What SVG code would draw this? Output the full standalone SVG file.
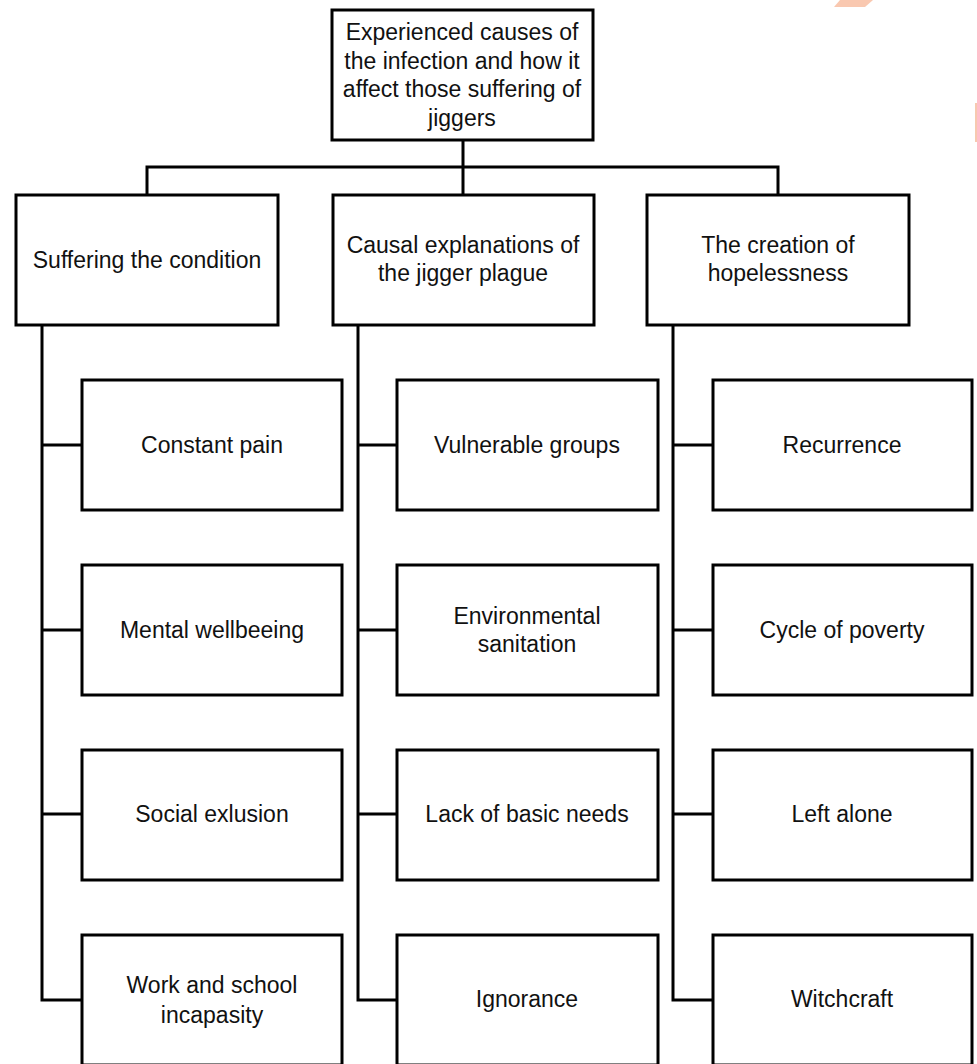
<svg xmlns="http://www.w3.org/2000/svg" width="977" height="1064" viewBox="0 0 977 1064">
<style>
.box{fill:#fff;stroke:#000;stroke-width:3}
.ln{fill:none;stroke:#000;stroke-width:3}
text{font-family:"Liberation Sans",Arial,sans-serif;font-size:23px;fill:#111;text-anchor:middle}
</style>
<rect width="977" height="1064" fill="#fff"/>
<polygon points="840,0 873,0 865,7 834,7" fill="#f9c8b0"/>
<rect x="975" y="103" width="2" height="39" fill="#f7c9b0"/>
<g id="connectors">
<path class="ln" d="M463,140 V195 M147,195 V167 H778 V195"/>
<path class="ln" d="M42,325 V1000 H82 M42,445 H82 M42,630 H82 M42,814 H82"/>
<path class="ln" d="M358,325 V1000 H397 M358,445 H397 M358,630 H397 M358,814 H397"/>
<path class="ln" d="M673,325 V1000 H713 M673,445 H713 M673,630 H713 M673,814 H713"/>
</g>
<g id="root"><rect class="box" x="332" y="10" width="261" height="130"/>
<text x="462" y="40">Experienced causes of</text><text x="462" y="69">the infection and how it</text><text x="462" y="97">affect those suffering of</text><text x="462" y="126">jiggers</text></g>
<g id="c1"><rect class="box" x="16" y="195" width="262" height="130"/><text x="147" y="268">Suffering the condition</text></g>
<g id="c2"><rect class="box" x="333" y="195" width="261" height="130"/><text x="463" y="253">Causal explanations of</text><text x="463" y="281">the jigger plague</text></g>
<g id="c3"><rect class="box" x="647" y="195" width="262" height="130"/><text x="778" y="253">The creation of</text><text x="778" y="281">hopelessness</text></g>
<g id="c1a"><rect class="box" x="82" y="380" width="260" height="130"/><text x="212" y="453">Constant pain</text></g>
<g id="c1b"><rect class="box" x="82" y="565" width="260" height="130"/><text x="212" y="638">Mental wellbeeing</text></g>
<g id="c1c"><rect class="box" x="82" y="750" width="260" height="130"/><text x="212" y="822">Social exlusion</text></g>
<g id="c1d"><rect class="box" x="82" y="935" width="260" height="130"/><text x="212" y="993">Work and school</text><text x="212" y="1023">incapasity</text></g>
<g id="c2a"><rect class="box" x="397" y="380" width="261" height="130"/><text x="527" y="453">Vulnerable groups</text></g>
<g id="c2b"><rect class="box" x="397" y="565" width="261" height="130"/><text x="527" y="624">Environmental</text><text x="527" y="652">sanitation</text></g>
<g id="c2c"><rect class="box" x="397" y="750" width="261" height="130"/><text x="527" y="822">Lack of basic needs</text></g>
<g id="c2d"><rect class="box" x="397" y="935" width="261" height="130"/><text x="527" y="1007">Ignorance</text></g>
<g id="c3a"><rect class="box" x="713" y="380" width="259" height="130"/><text x="842" y="453">Recurrence</text></g>
<g id="c3b"><rect class="box" x="713" y="565" width="259" height="130"/><text x="842" y="638">Cycle of poverty</text></g>
<g id="c3c"><rect class="box" x="713" y="750" width="259" height="130"/><text x="842" y="822">Left alone</text></g>
<g id="c3d"><rect class="box" x="713" y="935" width="259" height="130"/><text x="842" y="1007">Witchcraft</text></g>
</svg>
